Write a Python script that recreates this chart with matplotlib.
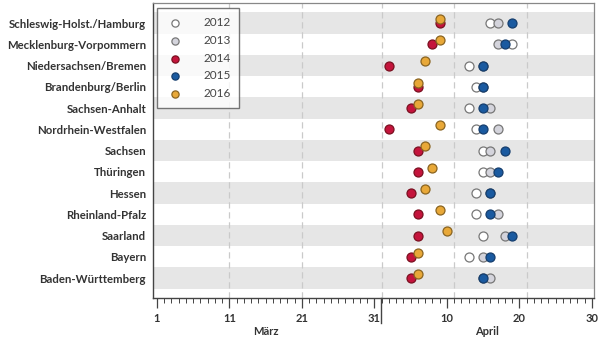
import numpy as np
import matplotlib
matplotlib.use("Agg")
import matplotlib.pyplot as plt
from matplotlib.ticker import FixedLocator
from matplotlib.transforms import blended_transform_factory

# Bundeslaender, von oben nach unten
laender = ["Schleswig-Holst./Hamburg", "Mecklenburg-Vorpommern", "Niedersachsen/Bremen",
           "Brandenburg/Berlin", "Sachsen-Anhalt", "Nordrhein-Westfalen", "Sachsen",
           "Thüringen", "Hessen", "Rheinland-Pfalz", "Saarland", "Bayern",
           "Baden-Württemberg"]

# Tag ab 1. Maerz (1 = 1. Maerz, 32 = 1. April)
y2012 = [47, 50, 44, 45, 44, 45, 46, 46, 45, 45, 46, 44, 46]
y2013 = [48, 48, 46, 46, 47, 48, 47, 47, 47, 48, 49, 46, 47]
y2014 = [40, 39, 33, 37, 36, 33, 37, 37, 36, 37, 37, 36, 36]
y2015 = [50, 49, 46, 46, 46, 46, 49, 48, 47, 47, 50, 47, 46]
y2016 = [40, 40, 38, 37, 37, 40, 38, 39, 38, 40, 41, 37, 37]

jahre = ["2012", "2013", "2014", "2015", "2016"]
farben = ["#ffffff", "#d4d4dc", "#c4143c", "#1a5aa0", "#e8a838"]
kanten = ["#777777", "#777777", "#7a1020", "#153e6e", "#8a6420"]
versatz = [0, 0, 0, 0, -0.2]

tick_pos = [1, 11, 21, 31, 41, 51, 61]
tick_lab = ["1", "11", "21", "31", "10", "20", "30"]
grid_pos = [11, 21, 32, 42, 52]

plt.rcParams['font.family'] = ['Lato', 'DejaVu Sans']

fig = plt.figure(figsize=(6.05, 3.41), dpi=100)
ax = fig.add_axes([0.2529, 0.126, 0.9818 - 0.2529, 0.991 - 0.126])

n = len(laender)
y = np.arange(n)
for i in range(0, n, 2):
    ax.axhspan(i - 0.5, i + 0.5, color="#e6e6e6", lw=0, zorder=0)
for g in grid_pos:
    ax.axvline(g, color="#cacaca", lw=0.9, ls=(0, (5, 3)), zorder=1)

werte = [y2012, y2013, y2014, y2015, y2016]
for k in range(5):
    ax.scatter(werte[k], y + versatz[k], s=42, c=farben[k], edgecolors=kanten[k],
               linewidths=0.9, zorder=3 + k, label=jahre[k])

ax.set_xlim(0.45, 61.3)
ax.set_ylim(n - 1 + 0.94, -0.94)

ax.set_yticks(y)
ax.set_yticklabels(laender, fontsize=8.2, fontweight="bold", color="#333333")
ax.tick_params(axis="y", length=0, pad=5)

ax.xaxis.set_major_locator(FixedLocator(tick_pos))
ax.set_xticklabels(tick_lab, fontsize=8, fontweight="bold", color="#333333")
ax.xaxis.set_minor_locator(FixedLocator(np.arange(1, 62)))
ax.tick_params(axis="x", which="major", length=7, width=0.9, color="#444444", pad=4)
ax.tick_params(axis="x", which="minor", length=3.5, width=0.7, color="#444444")

for s in ["left", "bottom"]:
    ax.spines[s].set_color("#444444")
    ax.spines[s].set_linewidth(1.0)
for s in ["top", "right"]:
    ax.spines[s].set_color("#888888")
    ax.spines[s].set_linewidth(0.9)

trans = blended_transform_factory(ax.transData, ax.transAxes)
ax.plot([31.9, 31.9], [0, -0.085], transform=trans, color="#444444", lw=1.0, clip_on=False)
ax.text(16, -0.115, "März", transform=trans, ha="center", va="center",
        fontsize=8, fontweight="bold", color="#333333")
ax.text(46.5, -0.115, "April", transform=trans, ha="center", va="center",
        fontsize=8, fontweight="bold", color="#333333")

leg = ax.legend(loc="upper left", bbox_to_anchor=(0.008, 0.983), fontsize=8.5,
                frameon=True, fancybox=False, edgecolor="#555555", handletextpad=1.6,
                borderpad=0.75, labelspacing=0.58, handlelength=1.6, borderaxespad=0,
                markerscale=0.8)
leg.get_frame().set_linewidth(1.0)
for t in leg.get_texts():
    t.set_color("#444444")

fig.savefig("out.png", dpi=100)
